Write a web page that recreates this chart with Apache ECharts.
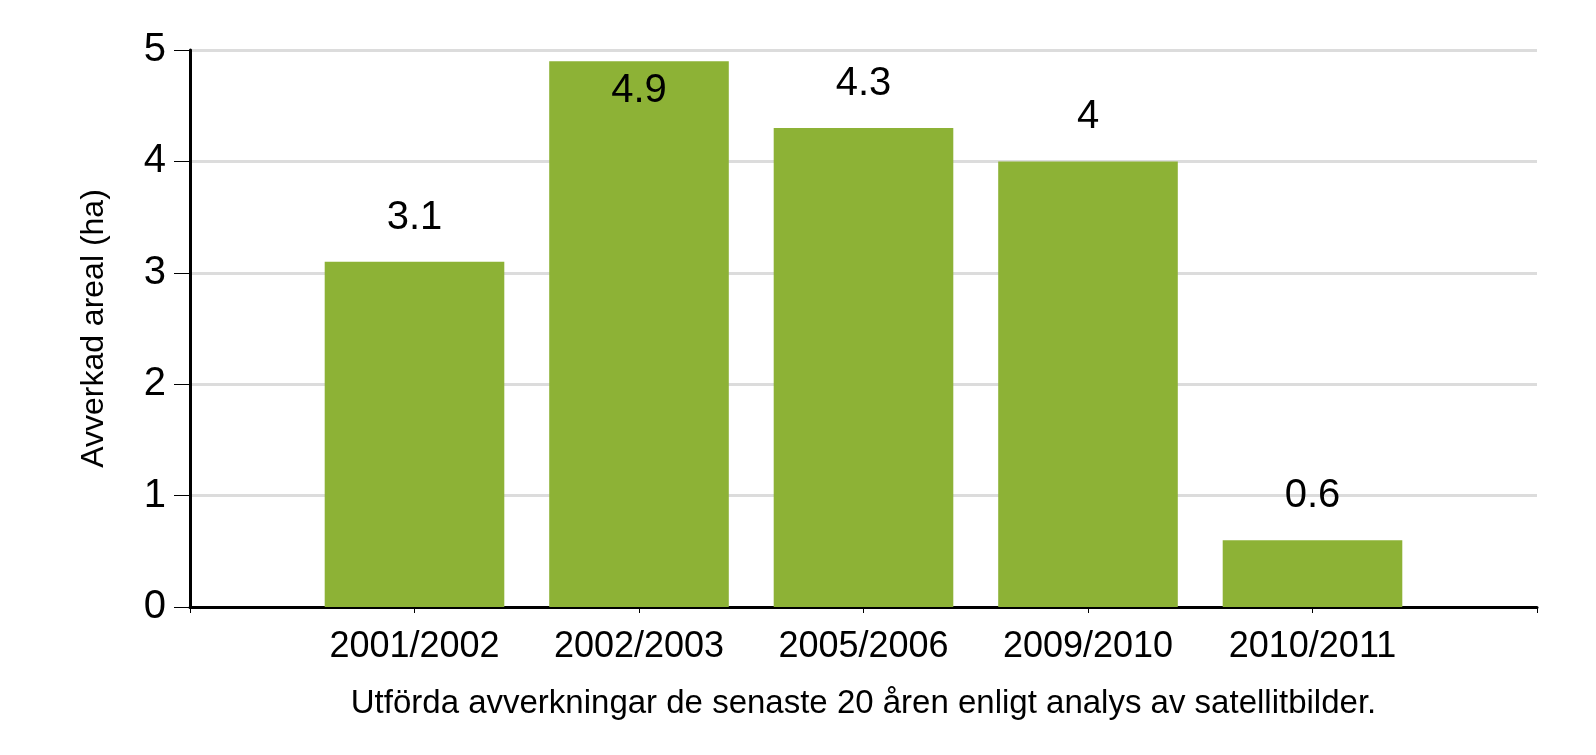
<!DOCTYPE html>
<html>
<head>
<meta charset="utf-8">
<script src="https://cdn.jsdelivr.net/npm/echarts@6/dist/echarts.min.js"></script>
<style>
  html, body { margin: 0; padding: 0; background: #fff; }
  #chart { width: 1596px; height: 755px; }
</style>
</head>
<body>
<div id="chart"></div>
<script>
// empty slots at both ends so the bars sit between the axis ends
const categories = ['', '2001/2002', '2002/2003', '2005/2006', '2009/2010', '2010/2011', ''];
const values = ['-', 3.1, 4.9, 4.3, 4.0, 0.6, '-'];
const yTicks = [0, 1, 2, 3, 4, 5];

const font = '"Liberation Sans", Arial, sans-serif';

const myChart = echarts.init(document.getElementById('chart'));

const option = {
  animation: false,
  grid: { left: 190, right: 59, top: 50, bottom: 148 },
  xAxis: {
    type: 'category',
    data: categories,
    boundaryGap: false,
    name: 'Utförda avverkningar de senaste 20 åren enligt analys av satellitbilder.',
    nameLocation: 'middle',
    nameGap: 80,
    nameTextStyle: { fontFamily: font, fontSize: 33, color: '#000' },
    axisLine: { lineStyle: { color: '#000', width: 3 } },
    axisTick: { show: true, length: 6, alignWithLabel: true, interval: 0, lineStyle: { color: '#000', width: 1 } },
    axisLabel: { interval: 0, margin: 22, fontFamily: font, fontSize: 36, color: '#000' },
    splitLine: { show: false }
  },
  yAxis: {
    type: 'value',
    min: yTicks[0],
    max: yTicks[yTicks.length - 1],
    interval: 1,
    name: 'Avverkad areal (ha)',
    nameLocation: 'middle',
    nameGap: 80,
    nameTextStyle: { fontFamily: font, fontSize: 32, color: '#000' },
    axisLine: { show: true, lineStyle: { color: '#000', width: 3 } },
    axisTick: { show: true, length: 16, lineStyle: { color: '#000', width: 1 } },
    axisLabel: { margin: 24, fontFamily: font, fontSize: 40, color: '#000' },
    splitLine: { show: true, lineStyle: { color: '#dcdcdc', width: 3 } }
  },
  series: [
    {
      type: 'bar',
      barWidth: '80%',
      itemStyle: { color: '#8db236' },
      label: {
        show: true,
        position: 'top',
        distance: 24,
        fontFamily: font,
        fontSize: 40,
        color: '#000'
      },
      // the tallest bar keeps its label inside, under its top edge
      data: values.map(function (v) {
        if (v === 4.9) {
          return { value: v, label: { position: 'insideTop', distance: 10 } };
        }
        return v;
      })
    }
  ]
};

myChart.setOption(option);
</script>
</body>
</html>
